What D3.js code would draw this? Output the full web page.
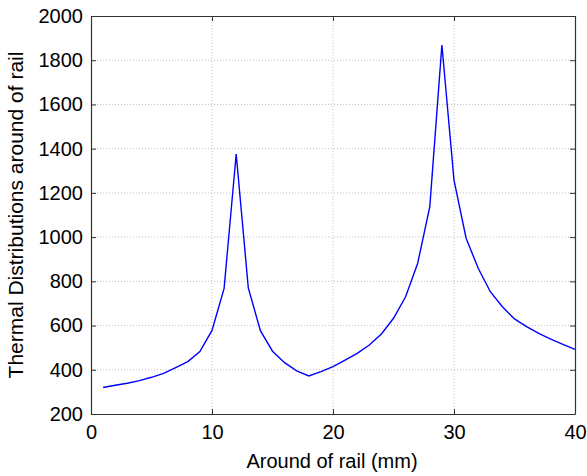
<!DOCTYPE html>
<html><head><meta charset="utf-8">
<script src="https://cdn.jsdelivr.net/npm/d3@7"></script>
<style>body{margin:0;background:#fff;}svg{display:block;font-family:"Liberation Sans",Arial,sans-serif;}</style>
</head><body>
<svg id="c" width="587" height="476"></svg>
<script>
const xs = [1,2,3,4,5,6,7,8,9,10,11,12,13,14,15,16,17,18,19,20,21,22,23,24,25,26,27,28,29,30,31,32,33,34,35,36,37,38,39,40];
const temps = [320,330,339,351,366,384,410,437,482,578,768,1376,770,577,484,432,395,372,392,414,444,474,512,562,633,730,882,1138,1869,1258,995,859,753,685,630,595,565,539,515,492];
const xTicks = [0,10,20,30,40];
const yTicks = [200,400,600,800,1000,1200,1400,1600,1800,2000];
const xLabel = "Around of rail (mm)";
const yLabel = "Thermal Distributions around of rail";

(function(){
const L=91, R=575, T=16, B=414;
const svg = d3.select("#c");
const x = d3.scaleLinear().domain([0,40]).range([L,R]);
const y = d3.scaleLinear().domain([200,2000]).range([B,T]);

const g = svg.append("g");
g.selectAll(".gx").data(xTicks.filter(d=>d>0&&d<40)).enter().append("line")
 .attr("x1",d=>x(d)).attr("x2",d=>x(d)).attr("y1",T).attr("y2",B)
 .attr("stroke","#b0b0b0").attr("stroke-width",0.8).attr("stroke-dasharray","1,2");
g.selectAll(".gy").data(yTicks.filter(d=>d>200&&d<2000)).enter().append("line")
 .attr("y1",d=>y(d)).attr("y2",d=>y(d)).attr("x1",L).attr("x2",R)
 .attr("stroke","#b0b0b0").attr("stroke-width",0.8).attr("stroke-dasharray","1,2");

const line = d3.line().x((d,i)=>x(xs[i])).y(d=>y(d));
g.append("path").datum(temps).attr("d",line).attr("fill","none")
 .attr("stroke","#0000ff").attr("stroke-width",1.4);

const ax = (gen, tr) => svg.append("g").attr("transform",tr).call(gen);
const fmt = d3.format("d");
const aB = ax(d3.axisBottom(x).tickValues(xTicks).tickFormat(fmt).tickSizeInner(-5).tickSizeOuter(0).tickPadding(11), `translate(0,${B})`);
const aT = ax(d3.axisTop(x).tickValues(xTicks).tickFormat("").tickSizeInner(-5).tickSizeOuter(0), `translate(0,${T})`);
const aL = ax(d3.axisLeft(y).tickValues(yTicks).tickFormat(fmt).tickSizeInner(-5).tickSizeOuter(0).tickPadding(8), `translate(${L},0)`);
const aR = ax(d3.axisRight(y).tickValues(yTicks).tickFormat("").tickSizeInner(-5).tickSizeOuter(0), `translate(${R},0)`);
[aB,aT,aL,aR].forEach(a=>{
  a.select(".domain").attr("stroke","#333").attr("stroke-width",1.2);
  a.selectAll(".tick line").attr("stroke","#333");
  a.selectAll("text").attr("font-size",20).attr("fill","#000").attr("font-family","Liberation Sans, Arial, sans-serif");
});

svg.append("text").attr("x",332).attr("y",468).attr("text-anchor","middle")
 .attr("font-size",20).text(xLabel);
svg.append("text").attr("transform",`translate(23,215) rotate(-90)`).attr("text-anchor","middle")
 .attr("font-size",21).text(yLabel);
})();
</script>
</body></html>
